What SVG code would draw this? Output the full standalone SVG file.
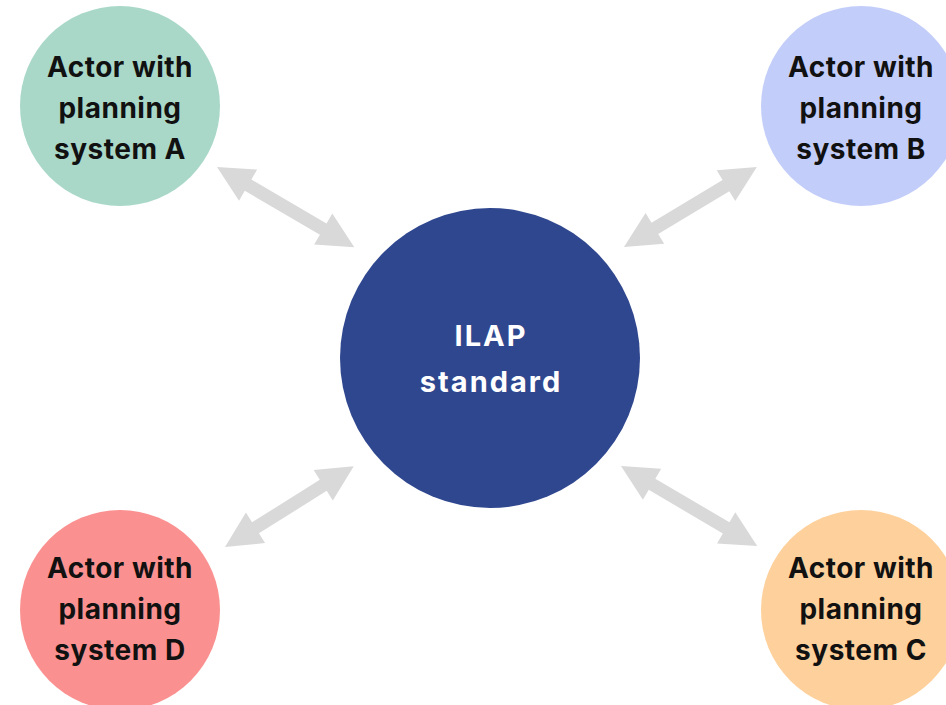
<svg xmlns="http://www.w3.org/2000/svg" width="946" height="705" viewBox="0 0 946 705">
<style>
.lbl{font-family:Inter,"Noto Sans","Liberation Sans",sans-serif;font-weight:700;font-size:28px;letter-spacing:0.5px;fill:#111;text-anchor:middle}
.ctr{font-family:Inter,"Noto Sans","Liberation Sans",sans-serif;font-weight:700;font-size:29px;letter-spacing:2px;fill:#fff;text-anchor:middle}
.arr{fill:#d9d9d9}
</style>
<rect width="946" height="705" fill="#fff"/>
<g id="connectors">
<polygon class="arr" transform="translate(217,167) rotate(30.28)" points="0,0 36,-18 36,-6.5 123,-6.5 123,-18 159,0 123,18 123,6.5 36,6.5 36,18"/>
<polygon class="arr" transform="translate(624,247) rotate(-31.03)" points="0,0 36,-18 36,-6.5 119,-6.5 119,-18 155,0 119,18 119,6.5 36,6.5 36,18"/>
<polygon class="arr" transform="translate(225,547) rotate(-32.12)" points="0,0 36,-18 36,-6.5 116,-6.5 116,-18 152,0 116,18 116,6.5 36,6.5 36,18"/>
<polygon class="arr" transform="translate(621,466) rotate(30.47)" points="0,0 36,-18 36,-6.5 122,-6.5 122,-18 158,0 122,18 122,6.5 36,6.5 36,18"/>
</g>
<g id="ilap">
<circle cx="490" cy="358" r="150" fill="#2f478f"/>
<text class="ctr" x="491" y="346">ILAP</text>
<text class="ctr" x="491" y="392">standard</text>
</g>
<g id="actorA">
<circle cx="120" cy="106" r="100" fill="#a9d8c9"/>
<text class="lbl" x="120" y="77">Actor with</text>
<text class="lbl" x="120" y="118">planning</text>
<text class="lbl" x="120" y="159">system A</text>
</g>
<g id="actorB">
<circle cx="861" cy="106" r="100" fill="#c3cdf9"/>
<text class="lbl" x="861" y="77">Actor with</text>
<text class="lbl" x="861" y="118">planning</text>
<text class="lbl" x="861" y="159">system B</text>
</g>
<g id="actorC">
<circle cx="861" cy="610" r="100" fill="#fed09b"/>
<text class="lbl" x="861" y="578">Actor with</text>
<text class="lbl" x="861" y="619">planning</text>
<text class="lbl" x="861" y="660">system C</text>
</g>
<g id="actorD">
<circle cx="120" cy="610" r="100" fill="#fa9190"/>
<text class="lbl" x="120" y="578">Actor with</text>
<text class="lbl" x="120" y="619">planning</text>
<text class="lbl" x="120" y="660">system D</text>
</g>
</svg>
